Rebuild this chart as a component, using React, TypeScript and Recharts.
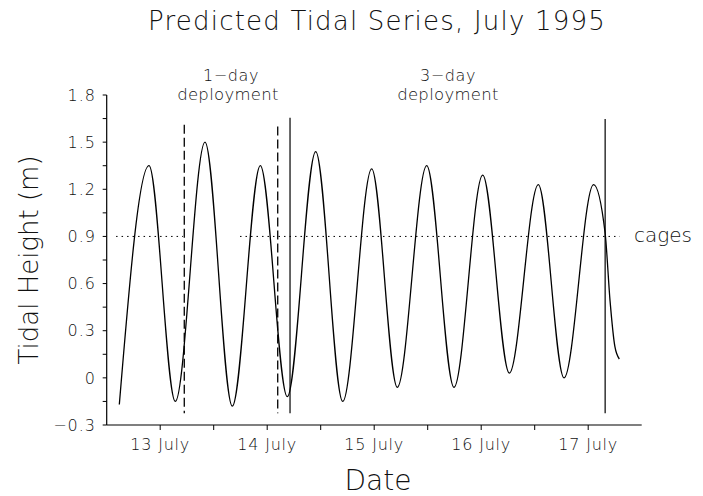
import React from 'react';
import { LineChart, Line, XAxis, YAxis, ReferenceLine } from 'recharts';

// hours after 13 July 00:00 and predicted tidal height (m), read at highs/lows
const hours = [2.83, 9.49, 15.39, 22.05, 28.17, 34.46, 40.51, 46.88, 52.94, 59.44, 65.18, 71.78, 77.9, 84.34, 90.31, 96.81, 102.58, 109.2, 111.8, 112.9, 113.98, 114.98];
const heights = [-0.17, 1.35, -0.15, 1.5, -0.18, 1.35, -0.12, 1.44, -0.15, 1.33, -0.06, 1.35, -0.06, 1.29, 0.03, 1.23, 0.0, 1.23, 0.92, 0.49, 0.2, 0.12];

const xTicks = [12, 24, 36, 48, 60, 72, 84, 96, 108];
const dayLabels: Record<number, string> = { 12: '13 July', 36: '14 July', 60: '15 July', 84: '16 July', 108: '17 July' };
const yTicks = [-0.3, -0.15, 0, 0.15, 0.3, 0.45, 0.6, 0.75, 0.9, 1.05, 1.2, 1.35, 1.5, 1.65, 1.8];
const yLabels = ['−0.3', '0', '0.3', '0.6', '0.9', '1.2', '1.5', '1.8'];

// deployment markers: [hour, top, bottom]
const dashedMarkers = [[17.4, 1.61, -0.225], [38.36, 1.6, -0.225]];
const solidMarkers = [[41.12, 1.655, -0.225], [111.8, 1.647, -0.225]];
const cagesLevel = 0.9;
const cageSegments = [[2.1, 17.1], [29.9, 115.1]];

const data = hours.map((h, i) => ({ h, v: heights[i] }));

const FONT = "'DejaVu Sans', sans-serif";
const W = 200;
const TXT = '#111';

export default function App() {
  return (
    <div style={{ position: 'absolute', left: 0, top: 0, width: 703, height: 496, background: '#fff' }}>
      <LineChart width={703} height={496} data={data} margin={{ top: 95, right: 61.3, bottom: 41, left: 0 }}>
        <XAxis
          dataKey="h"
          type="number"
          domain={[0, 120]}
          ticks={xTicks}
          interval={0}
          tickFormatter={(v: number) => dayLabels[v] || ''}
          height={30}
          tickSize={5}
          tickMargin={8.5}
          axisLine={{ stroke: '#000', strokeWidth: 1.2 }}
          tickLine={{ stroke: '#000' }}
          tick={{ fill: TXT, fontSize: 16, fontFamily: FONT, fontWeight: W, letterSpacing: 0.8 }}
          allowDataOverflow
        />
        <YAxis
          type="number"
          domain={[-0.3, 1.8]}
          ticks={yTicks}
          interval={0}
          tickFormatter={(v: number) => {
            const k = Math.round((v + 0.3) / 0.15);
            return k % 2 === 0 ? yLabels[k / 2] : '';
          }}
          width={106.7}
          tickSize={4}
          tickMargin={6.7}
          axisLine={{ stroke: '#000', strokeWidth: 1.2 }}
          tickLine={{ stroke: '#000' }}
          tick={{ fill: TXT, fontSize: 16, fontFamily: FONT, fontWeight: W, letterSpacing: 1 }}
          allowDataOverflow
        />
        {cageSegments.map(([a, b], i) => (
          <ReferenceLine
            key={'c' + i}
            segment={[{ x: a, y: cagesLevel }, { x: b, y: cagesLevel }]}
            stroke="#000"
            strokeWidth={1}
            strokeDasharray="1.5 4"
            ifOverflow="visible"
          />
        ))}
        {dashedMarkers.map(([x, t, b], i) => (
          <ReferenceLine
            key={'d' + i}
            segment={[{ x, y: t }, { x, y: b }]}
            stroke="#000"
            strokeWidth={1.3}
            strokeDasharray="9 4"
            ifOverflow="visible"
          />
        ))}
        {solidMarkers.map(([x, t, b], i) => (
          <ReferenceLine
            key={'s' + i}
            segment={[{ x, y: t }, { x, y: b }]}
            stroke="#000"
            strokeWidth={1.2}
            ifOverflow="visible"
          />
        ))}
        <Line type="monotone" dataKey="v" stroke="#000" strokeWidth={1.3} dot={false} isAnimationActive={false} />
      </LineChart>
      <svg width={703} height={496} style={{ position: 'absolute', left: 0, top: 0, pointerEvents: 'none' }}>
        <g fontFamily={FONT} fontWeight={W} fill={TXT}>
          <text x={377} y={30} fontSize={26} letterSpacing={1.2} textAnchor="middle">Predicted Tidal Series, July 1995</text>
          <text x={231} y={81} fontSize={16} letterSpacing={0.6} textAnchor="middle">1−day</text>
          <text x={228} y={100} fontSize={16.5} letterSpacing={0.3} textAnchor="middle">deployment</text>
          <text x={448} y={81} fontSize={16} letterSpacing={0.6} textAnchor="middle">3−day</text>
          <text x={448} y={100} fontSize={16.5} letterSpacing={0.3} textAnchor="middle">deployment</text>
          <text x={634} y={242} fontSize={20}>cages</text>
          <text x={378} y={490} fontSize={28} textAnchor="middle">Date</text>
          <text x={0} y={0} fontSize={26} textAnchor="middle" transform="translate(38 260) rotate(-90)">Tidal Height (m)</text>
        </g>
      </svg>
    </div>
  );
}
